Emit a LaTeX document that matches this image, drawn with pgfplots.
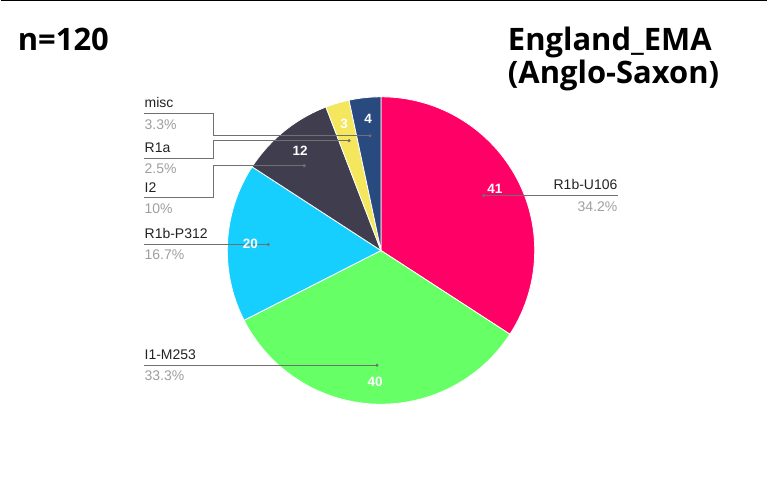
\documentclass[border=0pt]{standalone}
\usepackage{pgfplots}
\pgfplotsset{compat=1.18}
\usepackage{pgfplotstable}
\usepackage{fontspec}
\setmainfont{Liberation Sans}
\newfontfamily\titlefont{Open Sans}

\definecolor{cU}{HTML}{FF0066}
\definecolor{cI1}{HTML}{66FF66}
\definecolor{cP}{HTML}{16CFFF}
\definecolor{cI2}{HTML}{403D4F}
\definecolor{cR}{HTML}{F4E75E}
\definecolor{cM}{HTML}{294A7F}
\definecolor{lbl}{HTML}{222222}
\definecolor{pct}{HTML}{9E9E9E}
\definecolor{lead}{HTML}{707070}

% slices clockwise from 12 o'clock; lx/ly = position of the count inside the slice (pixels)
\pgfplotstableread{
name value color lx ly
R1b-U106 41 cU 495 189
I1-M253 40 cI1 375 383
R1b-P312 20 cP 250 244
I2 12 cI2 300 151
R1a 3 cR 344 124
misc 4 cM 368 119
}\piedata

\begin{document}
\begin{tikzpicture}
\begin{axis}[
    width=768pt, height=500pt, scale only axis,
    xmin=0, xmax=768, ymin=0, ymax=500,
    y dir=reverse,
    hide axis,
    clip=false,
]
\path (axis cs:0,0) rectangle (axis cs:768,500);
\draw[black, line width=1.5pt] (axis cs:0,0.75) -- (axis cs:768,0.75);

% pie slices from the table
\pgfplotsextra{
  \pgfplotstablegetrowsof{\piedata}
  \pgfmathtruncatemacro\lastrow{\pgfplotsretval-1}
  \gdef\pietotal{0}
  \foreach \i in {0,...,\lastrow}{
    \pgfplotstablegetelem{\i}{value}\of\piedata
    \pgfmathsetmacro\t{\pietotal+\pgfplotsretval}
    \xdef\pietotal{\t}
  }
  \gdef\pieangle{90}
  \foreach \i in {0,...,\lastrow}{
    \pgfplotstablegetelem{\i}{value}\of\piedata
    \edef\v{\pgfplotsretval}
    \pgfplotstablegetelem{\i}{color}\of\piedata
    \edef\c{\pgfplotsretval}
    \pgfmathsetmacro\endang{\pieangle-360*\v/\pietotal}
    \fill[\c, draw=white, line width=0.8pt] (axis cs:381,251) -- ++(\pieangle:154pt)
      arc[start angle=\pieangle, end angle=\endang, radius=154pt] -- cycle;
    \xdef\pieangle{\endang}
  }
}

% leader lines
\addplot[lead, line width=0.7pt, mark=*, mark size=1.2pt, mark indices={4}] coordinates {(144,114) (213,114) (213,136) (370,136)};
\addplot[lead, line width=0.7pt, mark=*, mark size=1.2pt, mark indices={4}] coordinates {(144,159) (213,159) (213,141) (349,141)};
\addplot[lead, line width=0.7pt, mark=*, mark size=1.2pt, mark indices={4}] coordinates {(144,198) (213,198) (213,166) (304,166)};
\addplot[lead, line width=0.7pt, mark=*, mark size=1.2pt, mark indices={2}] coordinates {(618,196) (484,196)};
\addplot[lead, line width=0.7pt, mark=*, mark size=1.2pt, mark indices={2}] coordinates {(144,245) (268,245)};
\addplot[lead, line width=0.7pt, mark=*, mark size=1.2pt, mark indices={2}] coordinates {(144,366) (377,366)};

% counts inside slices
\addplot[draw=none, mark=none, nodes near coords, point meta=explicit symbolic,
    nodes near coords style={anchor=center, inner sep=0pt, text=white, font=\bfseries\fontsize{13.5}{15}\selectfont}]
    table[x=lx, y=ly, meta=value] {\piedata};

% outside labels
\tikzset{nm/.style={inner sep=0pt, text=lbl, font=\fontsize{14}{16}\selectfont},
         pc/.style={inner sep=0pt, text=pct, font=\fontsize{14}{16}\selectfont}}
\node[nm, anchor=base west] at (axis cs:144,108) {misc};
\node[pc, anchor=base west] at (axis cs:144,130) {3.3\%};
\node[nm, anchor=base west] at (axis cs:144,153) {R1a};
\node[pc, anchor=base west] at (axis cs:144,174) {2.5\%};
\node[nm, anchor=base west] at (axis cs:144,193) {I2};
\node[pc, anchor=base west] at (axis cs:144,214) {10\%};
\node[nm, anchor=base west] at (axis cs:144,239) {R1b-P312};
\node[pc, anchor=base west] at (axis cs:144,260) {16.7\%};
\node[nm, anchor=base west] at (axis cs:144,360) {I1-M253};
\node[pc, anchor=base west] at (axis cs:144,381) {33.3\%};
\node[nm, anchor=base east] at (axis cs:618,190) {R1b-U106};
\node[pc, anchor=base east] at (axis cs:618,212) {34.2\%};

% titles
\node[anchor=base west, inner sep=0pt, font=\titlefont\bfseries\fontsize{31}{36}\selectfont] at (axis cs:17,51) {n=120};
\node[anchor=base west, inner sep=0pt, font=\titlefont\bfseries\fontsize{31}{36}\selectfont] at (axis cs:508,51) {England\_EMA};
\node[anchor=base west, inner sep=0pt, font=\titlefont\bfseries\fontsize{31}{36}\selectfont] at (axis cs:508,84) {(Anglo-Saxon)};
\end{axis}
\end{tikzpicture}
\end{document}
